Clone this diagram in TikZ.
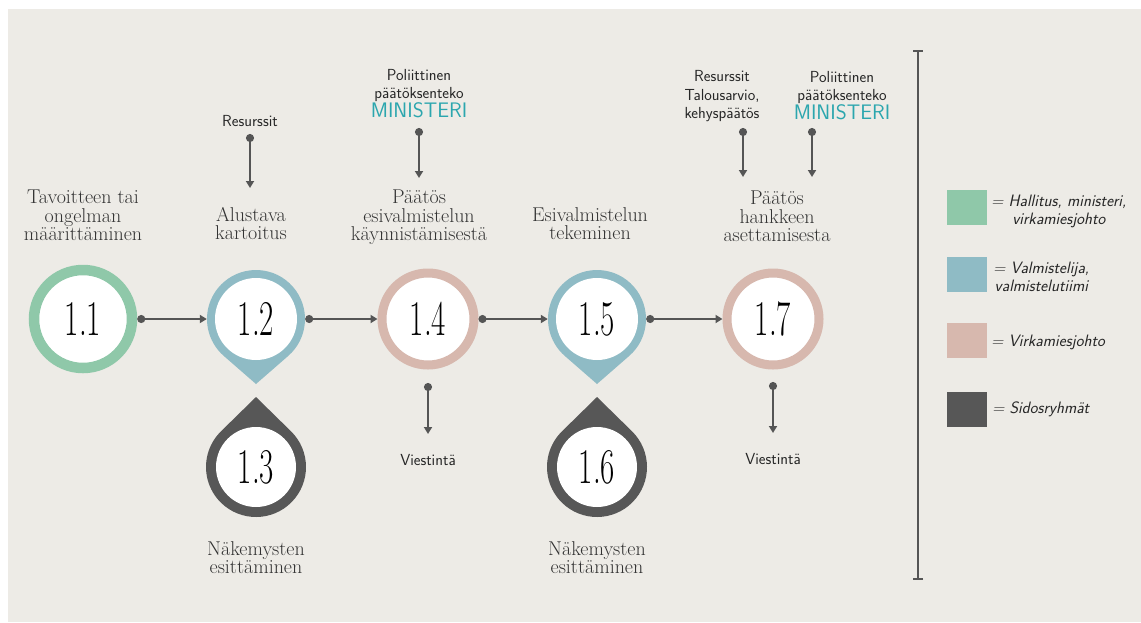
\documentclass[tikz,border=0pt]{standalone}
\usepackage{graphicx}
\usetikzlibrary{arrows.meta,positioning,calc}

\definecolor{bgcol}{HTML}{EDEBE6}
\definecolor{hgreen}{HTML}{8FC8A9}
\definecolor{vblue}{HTML}{8FBBC5}
\definecolor{vpink}{HTML}{D7B8AE}
\definecolor{sdark}{HTML}{575757}
\definecolor{linegray}{HTML}{555555}
\definecolor{textgray}{HTML}{333333}
\definecolor{minteal}{HTML}{2BA6AE}

\tikzset{
	ring/.style={circle, draw=#1, fill=white, line width=9pt, minimum size=92pt, inner sep=0pt},
	pinnum/.style={circle, minimum size=98pt, inner sep=0pt},
	num/.style={font=\fontsize{50}{50}\selectfont, text=black},
	heading/.style={align=center, inner sep=0pt, text=textgray, font=\fontsize{20}{18.5}\selectfont},
	note/.style={align=center, inner sep=0pt, text=black!85, font=\sffamily\fontsize{16}{18.5}\selectfont},
	legbox/.style={minimum width=40pt, minimum height=35pt, inner sep=0pt, fill=#1},
	legtext/.style={align=center, inner sep=0pt, text=black!85, font=\sffamily\itshape\fontsize{16.5}{18}\selectfont},
	conn/.style={draw=linegray, line width=1.8pt, arrows={Circle[length=8pt]-Triangle[length=7pt,width=8pt]}},
}

\newcommand{\numtext}[1]{\scalebox{0.62}[1]{#1}}
\newcommand{\minister}{{\fontsize{21}{20}\selectfont\color{minteal}MINISTERI}}

\begin{document}
\begin{tikzpicture}[x=1pt, y=-1pt]

	% ---- canvas

	\useasboundingbox (0,0) rectangle (1141,622);
	\fill[bgcol] (8,9) rectangle (1141,622);

	% ---- pins and drops

	\foreach \cx in {256,597} {
		\fill[vblue] (\cx,384) -- ($(\cx,319)+(49:49)$) arc[start angle=49, end angle=-229, radius=49] -- cycle;
		\fill[white] (\cx,319) circle (41);
		\fill[sdark] (\cx,397) -- ($(\cx,467)+(-45.6:50)$) arc[start angle=-45.6, end angle=225.6, radius=50] -- cycle;
		\fill[white] (\cx,467) circle (40);
	}

	% ---- steps

	\node[ring=hgreen, line width=10.5pt, minimum size=98pt, num] (c11) at (83,319) {\numtext{1.1}};
	\node[pinnum, num] (c12) at (256,319) {\numtext{1.2}};
	\node[pinnum, num] (c13) at (256,467) {\numtext{1.3}};
	\node[ring=vpink, num] (c14) at (428,319) {\numtext{1.4}};
	\node[pinnum, num] (c15) at (597,319) {\numtext{1.5}};
	\node[pinnum, num] (c16) at (597,467) {\numtext{1.6}};
	\node[ring=vpink, num] (c17) at (773,319) {\numtext{1.7}};

	% ---- step titles

	\node[heading, anchor=north] (tav) at (83,190) {Tavoitteen tai\\ongelman\\määrittäminen};
	\node[heading, anchor=north] (alus) at (251,207) {Alustava\\kartoitus};
	\node[heading, anchor=north] (pae1) at (419,190) {Päätös\\esivalmistelun\\käynnistämisestä};
	\node[heading, anchor=north] (esiv) at (590,207) {Esivalmistelun\\tekeminen};
	\node[heading, anchor=north] (hank) at (777,191) {Päätös\\hankkeen\\asettamisesta};
	\node[heading, anchor=north] (nak1) at (256,541) {Näkemysten\\esittäminen};
	\node[heading, anchor=north] (nak2) at (597,541) {Näkemysten\\esittäminen};

	% ---- inputs and outputs

	\node[note, anchor=south] (res1) at (250,127) {Resurssit};
	\node[note, anchor=south] (pol1) at (419,118) {Poliittinen\\päätöksenteko\\\minister};
	\node[note, anchor=south] (res2) at (722,122) {Resurssit\\Talousarvio,\\kehyspäätös};
	\node[note, anchor=south] (pol2) at (842,120) {Poliittinen\\päätöksenteko\\\minister};
	\node[note, anchor=north] (vie1) at (428,454) {Viestintä};
	\node[note, anchor=north] (vie2) at (773,453) {Viestintä};

	% ---- flow

	\draw[conn] (c11) -- (c12);
	\draw[conn] (c12) -- (c14);
	\draw[conn] (c14) -- (c15);
	\draw[conn] (c15) -- (c17);

	\draw[conn, shorten <=7pt, shorten >=19pt] (res1.south) -- (res1.south |- alus.north);
	\draw[conn, shorten <=10pt, shorten >=12pt] (pol1.south) -- (pae1.north);
	\draw[conn, shorten <=6pt, shorten >=14pt] ([xshift=21pt]res2.south) -- ([xshift=21pt]res2.south |- hank.north);
	\draw[conn, shorten <=8pt, shorten >=14pt] ([xshift=-30pt]pol2.south) -- ([xshift=-30pt]pol2.south |- hank.north);
	\draw[conn, shorten <=13.5pt, shorten >=20pt] (c14.south) -- (c14.south |- vie1.north);
	\draw[conn, shorten <=12.5pt, shorten >=20pt] (c17.south) -- (c17.south |- vie2.north);

	% ---- legend

	\coordinate (ltop) at (918,50);
	\coordinate (lbot) at (918,580);
	\draw[linegray, line width=1.8pt, arrows={Bar[width=10pt]-Bar[width=10pt]}] (ltop) -- (lbot);

	\node[legbox=hgreen] (lg1) at (967,207) {};
	\node[legbox=vblue] (lg2) at (967,274) {};
	\node[legbox=vpink] (lg3) at (967,340) {};
	\node[legbox=sdark] (lg4) at (967,409) {};

	\node[legtext, right=4pt of lg1, yshift=-4pt] (lt1) {= Hallitus, ministeri,\\virkamiesjohto};
	\node[legtext, right=6pt of lg2, yshift=-3pt] (lt2) {= Valmistelija,\\valmistelutiimi};
	\node[legtext, right=4pt of lg3, yshift=-2pt] (lt3) {= Virkamiesjohto};
	\node[legtext, right=5pt of lg4] (lt4) {= Sidosryhmät};

\end{tikzpicture}
\end{document}
